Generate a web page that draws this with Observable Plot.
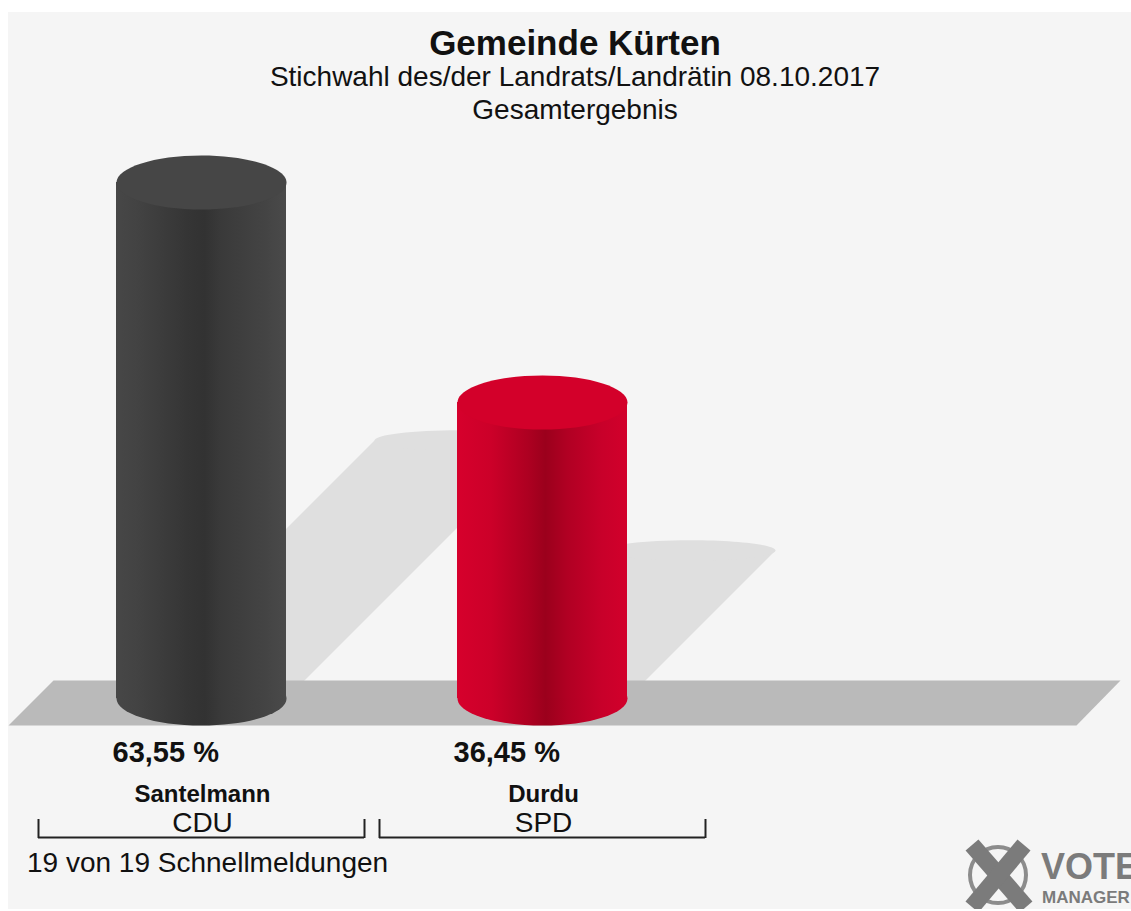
<!DOCTYPE html>
<html>
<head>
<meta charset="utf-8">
<script src="https://cdn.jsdelivr.net/npm/d3@7"></script>
<script src="https://cdn.jsdelivr.net/npm/@observablehq/plot@0.6"></script>
<style>
  html, body { margin: 0; padding: 0; background: #ffffff; }
  #panel { position: absolute; left: 8px; top: 12px; width: 1123px; height: 897px; background: #f5f5f5;
           overflow: hidden; font-family: "Liberation Sans", Arial, sans-serif; color: #111; }
  .h { position: absolute; left: 0; width: 1134px; text-align: center; white-space: nowrap; }
  #title { top: 13px; font-size: 35px; line-height: 35px; font-weight: bold; }
  #sub1 { top: 51px; font-size: 28px; line-height: 28px; }
  #sub2 { top: 84px; font-size: 28px; line-height: 28px; }
  #chart { position: absolute; left: 0; top: 128px; }
  #caption { position: absolute; left: 19px; top: 837px; font-size: 28px; line-height: 28px; white-space: nowrap; }
  #logo { position: absolute; left: 942px; top: 823px; }
  g[aria-label="pct"] text { letter-spacing: 1.5px; }
</style>
</head>
<body>
<div id="panel">
  <div class="h" id="title">Gemeinde Kürten</div>
  <div class="h" id="sub1">Stichwahl des/der Landrats/Landrätin 08.10.2017</div>
  <div class="h" id="sub2">Gesamtergebnis</div>
  <div id="chart"></div>
  <div id="caption">19 von 19 Schnellmeldungen</div>
  <svg id="logo" width="200" height="80">
    <circle cx="48" cy="40" r="28" fill="none" stroke="#8c8c8c" stroke-width="4"></circle>
    <line x1="22" y1="10" x2="76" y2="72" stroke="#7b7b7b" stroke-width="17"></line>
    <line x1="74" y1="10" x2="22" y2="72" stroke="#7b7b7b" stroke-width="17"></line>
    <text x="91" y="44" font-family="Liberation Sans, Arial, sans-serif" font-weight="bold" font-size="36" fill="#7b7b7b">VOTE</text>
    <text x="92" y="68" font-family="Liberation Sans, Arial, sans-serif" font-weight="bold" font-size="17" fill="#7b7b7b">MANAGER</text>
  </svg>
</div>
<script>
// ---------------- data ----------------
const parties = ["CDU", "SPD"];
const candidates = ["Santelmann", "Durdu"];
const shares = [63.55, 36.45];

// ---------------- style ----------------
const bodyStops = {
  CDU: [[0, "#474747"], [0.12, "#434343"], [0.42, "#353535"], [0.52, "#323232"], [0.62, "#3a3a3a"], [0.88, "#444444"], [1, "#4a4a4a"]],
  SPD: [[0, "#d6002c"], [0.2, "#cc0029"], [0.42, "#ad0021"], [0.52, "#9b001c"], [0.65, "#b10023"], [0.85, "#c8002a"], [1, "#d2002b"]]
};
const capColor = {CDU: "#464646", SPD: "#d3002a"};
const shadowColor = "#dfdfdf";
const floorColor = "#bababa";
const inkColor = "#111111";

// ---------------- layout ----------------
const W = 1123, H = 705;
const X0 = 193, STEP = 341;      // pixel position of first slot, slot spacing
const ZERO = 558, PX = 8.12;     // pixel of 0 %, pixels per percent
const HALF = 85 / STEP;          // cylinder half-width in slot units
const CAP_RATIO = 0.318;         // ellipse ry / rx for caps
const SH_RATIO = 0.5;            // shadow height relative to bar
const BR_HALF = 163 / STEP;      // bracket half-width in slot units
const sx = px => (px - X0) / STEP;
const sy = py => (ZERO - py) / PX;

const rows = parties.map((party, i) => ({i, party, candidate: candidates[i], value: shares[i]}));
const fmt = v => v.toFixed(2).replace(".", ",") + " %";

function ellipse(ratio) {
  const k = 0.5522847;
  return {
    draw(ctx, size) {
      const rx = Math.sqrt(size / Math.PI), ry = rx * ratio;
      ctx.moveTo(rx, 0);
      ctx.bezierCurveTo(rx, ry * k, rx * k, ry, 0, ry);
      ctx.bezierCurveTo(-rx * k, ry, -rx, ry * k, -rx, 0);
      ctx.bezierCurveTo(-rx, -ry * k, -rx * k, -ry, 0, -ry);
      ctx.bezierCurveTo(rx * k, -ry, rx, -ry * k, rx, 0);
      ctx.closePath();
    }
  };
}

// shadows: sheared copies of each cylinder, cast up and to the right at 45°
const shadowPts = rows.flatMap(d => {
  const h = d.value * SH_RATIO;
  const s = (h * PX) / STEP;
  return [[d.i - HALF, 0], [d.i - HALF + s, h], [d.i + HALF + s, h], [d.i + HALF, 0]]
    .map(([x, y]) => ({party: d.party, x, y}));
});
const shadowTops = rows.map(d => {
  const h = d.value * SH_RATIO;
  return {party: d.party, x: d.i + (h * PX) / STEP, y: h};
});

// floor (decorative parallelogram)
const floor = [[45, 540], [1112, 540], [1068, 585], [0, 585]].map(([x, y]) => ({x: sx(x), y: sy(y)}));

const marks = [
  Plot.line(shadowPts, {x: "x", y: "y", z: "party", fill: shadowColor, stroke: "none"}),
  Plot.dot(shadowTops, {x: "x", y: "y", r: 85, symbol: ellipse(0.12), fill: shadowColor, stroke: "none"}),
  Plot.line(floor, {x: "x", y: "y", fill: floorColor, stroke: "none"})
];

for (const d of rows) {
  const grad = `url(#g-${d.party})`;
  marks.push(
    Plot.dot([d], {x: "i", y: 0, r: 85, symbol: ellipse(CAP_RATIO), fill: grad, stroke: "none"}),
    Plot.rect([d], {x1: r => r.i - HALF, x2: r => r.i + HALF, y1: 0, y2: "value", fill: grad}),
    Plot.dot([d], {x: "i", y: "value", r: 85, symbol: ellipse(CAP_RATIO), fill: capColor[d.party], stroke: "none"})
  );
}

marks.push(
  Plot.text(rows, {x: "i", y: 0, text: d => fmt(d.value), dx: -89, dy: 54, textAnchor: "start", ariaLabel: "pct",
    fontSize: 29, fontWeight: "bold", fill: inkColor, fontFamily: "Liberation Sans, Arial, sans-serif"}),
  Plot.text(rows, {x: "i", y: 0, text: "candidate", dx: 1, dy: 96,
    fontSize: 24, fontWeight: "bold", fill: inkColor, fontFamily: "Liberation Sans, Arial, sans-serif"}),
  Plot.text(rows, {x: "i", y: 0, text: "party", dx: 1, dy: 125,
    fontSize: 28, fill: inkColor, fontFamily: "Liberation Sans, Arial, sans-serif"}),
  Plot.ruleY(rows, {y: 0, dy: 139, x1: d => d.i - BR_HALF, x2: d => d.i + BR_HALF, stroke: "#222", strokeWidth: 2}),
  Plot.ruleX(rows.flatMap(d => [d.i - BR_HALF, d.i + BR_HALF]), {x: d => d, y1: sy(ZERO + 121), y2: sy(ZERO + 140), stroke: "#222", strokeWidth: 2})
);

const svg = Plot.plot({
  width: W,
  height: H,
  margin: 0,
  x: {type: "linear", domain: [0, 1], range: [X0, X0 + STEP], axis: null},
  y: {type: "linear", domain: [0, 70], range: [ZERO, ZERO - 70 * PX], axis: null},
  style: {background: "transparent", overflow: "visible"},
  marks
});

const defs = d3.select(svg).insert("defs", ":first-child");
for (const p of parties) {
  const g = defs.append("linearGradient").attr("id", `g-${p}`)
    .attr("x1", 0).attr("x2", 1).attr("y1", 0).attr("y2", 0);
  for (const [o, c] of bodyStops[p]) g.append("stop").attr("offset", o).attr("stop-color", c);
}

document.getElementById("chart").appendChild(svg);
</script>
</body>
</html>
